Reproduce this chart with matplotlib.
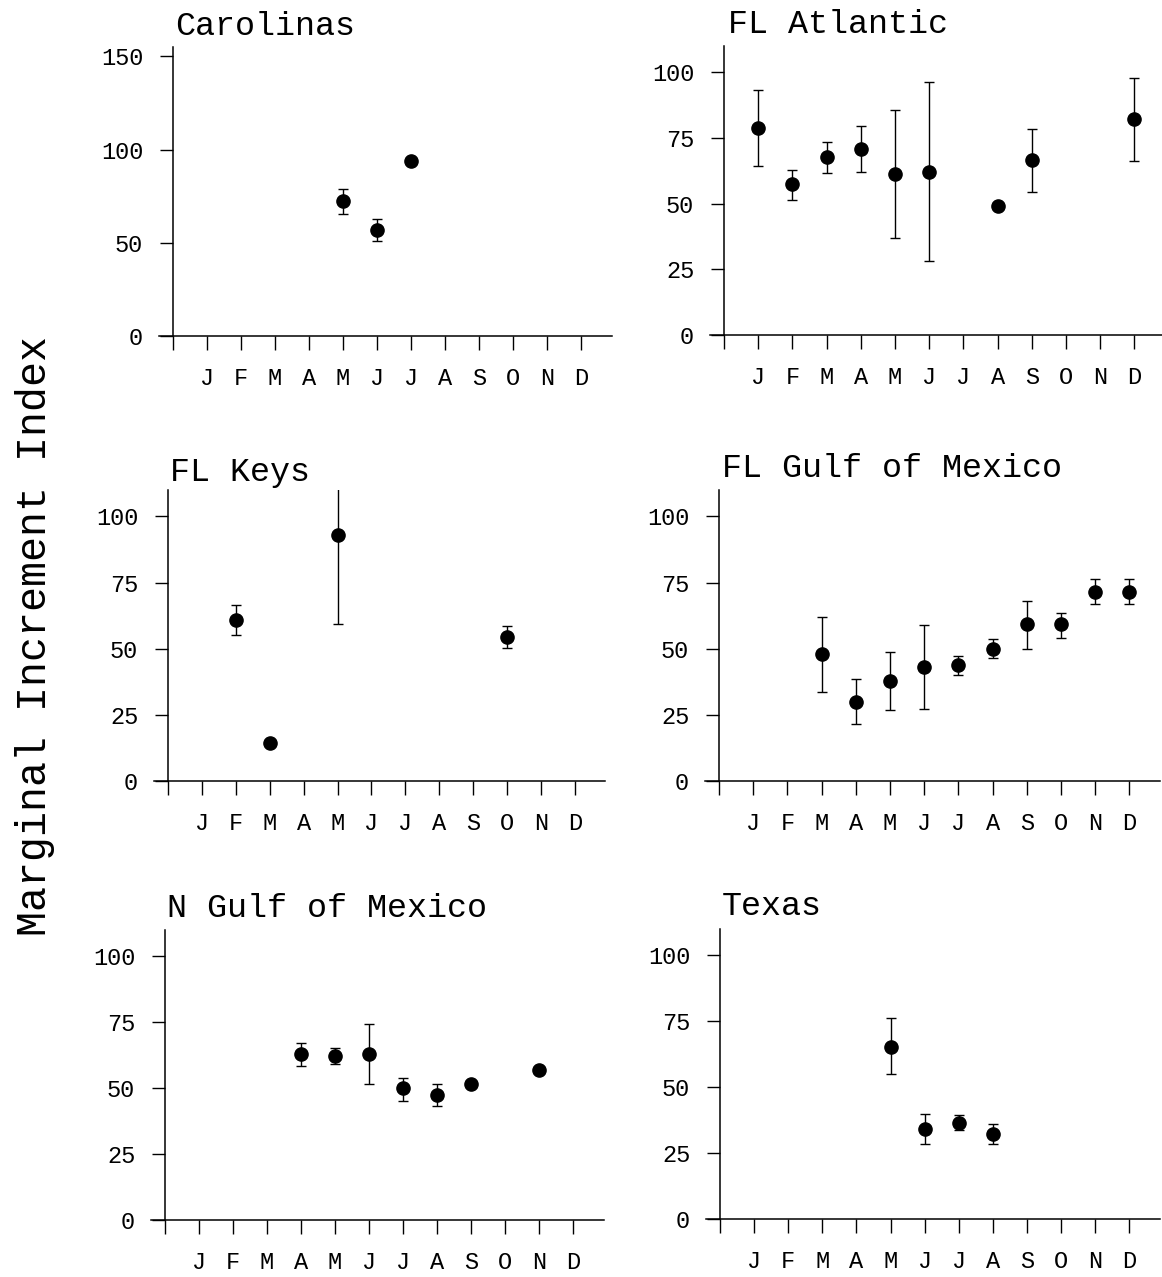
import numpy as np
import matplotlib
matplotlib.use("Agg")
import matplotlib.pyplot as plt

plt.rcParams['font.family'] = ['Liberation Mono', 'DejaVu Sans Mono']

# month positions 1..12, tick 0 is the origin
months = ['J', 'F', 'M', 'A', 'M', 'J', 'J', 'A', 'S', 'O', 'N', 'D']

# --- data (mean, lower bar end, upper bar end; nan = no bar) ---
car_x = [5, 6, 7]
car_mean = [72.6, 57.0, 94.0]
car_lo = [65.7, 51.0, np.nan]
car_hi = [79.0, 62.5, np.nan]

atl_x = [1, 2, 3, 4, 5, 6, 8, 9, 12]
atl_mean = [78.8, 57.3, 67.8, 70.8, 61.3, 62.1, 49.2, 66.5, 82.4]
atl_lo = [64.4, 51.3, 61.5, 62.1, 36.8, 28.1, np.nan, 54.6, 66.2]
atl_hi = [93.4, 62.7, 73.5, 79.6, 85.8, 96.3, np.nan, 78.4, 97.9]

key_x = [2, 3, 5, 10]
key_mean = [60.9, 14.5, 93.1, 54.4]
key_lo = [55.1, np.nan, 59.4, 50.2]
key_hi = [66.6, np.nan, 127.0, 58.5]

fgm_x = [3, 4, 5, 6, 7, 8, 9, 10, 11, 12]
fgm_mean = [47.9, 29.9, 37.9, 43.2, 43.7, 49.9, 59.2, 59.2, 71.6, 71.6]
fgm_lo = [33.6, 21.5, 26.7, 27.2, 40.2, 46.5, 49.9, 54.2, 66.9, 66.9]
fgm_hi = [62.0, 38.4, 48.9, 59.1, 47.1, 53.5, 67.9, 63.6, 76.3, 76.3]

ngm_x = [4, 5, 6, 7, 8, 9, 11]
ngm_mean = [63.0, 62.3, 63.0, 49.9, 47.5, 51.5, 57.0]
ngm_lo = [58.5, 59.1, 51.4, 45.3, 43.4, np.nan, np.nan]
ngm_hi = [67.3, 65.2, 74.2, 53.9, 51.4, np.nan, np.nan]

tex_x = [5, 6, 7, 8]
tex_mean = [65.4, 34.2, 36.6, 32.3]
tex_lo = [54.9, 28.3, 33.9, 28.6]
tex_hi = [76.3, 40.0, 39.3, 35.9]

W, H = 1162, 1277
fig = plt.figure(figsize=(W / 100, H / 100), dpi=100)

# panel layout in pixels: origin x, px per month, y of zero, y of top
panels = [
    ("Carolinas", car_x, car_mean, car_lo, car_hi, 173, 34.0, 336, 47, 155, [0, 50, 100, 150], (175, 35)),
    ("FL Atlantic", atl_x, atl_mean, atl_lo, atl_hi, 724, 34.2, 335, 46, 110, [0, 25, 50, 75, 100], (728, 33)),
    ("FL Keys", key_x, key_mean, key_lo, key_hi, 168, 33.9, 781, 490, 110, [0, 25, 50, 75, 100], (170, 481)),
    ("FL Gulf of Mexico", fgm_x, fgm_mean, fgm_lo, fgm_hi, 719, 34.2, 781, 490, 110, [0, 25, 50, 75, 100], (722, 477)),
    ("N Gulf of Mexico", ngm_x, ngm_mean, ngm_lo, ngm_hi, 165, 34.0, 1220, 930, 110, [0, 25, 50, 75, 100], (167, 917)),
    ("Texas", tex_x, tex_mean, tex_lo, tex_hi, 720, 34.1, 1219, 929, 110, [0, 25, 50, 75, 100], (722, 915)),
]

xmin, xmax = -0.4, 12.9

for title, xs, mean, lo, hi, x0, dx, yb, yt, ytop, yticks, tpos in panels:
    left = x0 + xmin * dx
    width = (xmax - xmin) * dx
    ax = fig.add_axes([left / W, 1 - yb / H, width / W, (yb - yt) / H])
    ax.set_xlim(xmin, xmax)
    ax.set_ylim(0, ytop)

    xs = np.array(xs, dtype=float)
    mean = np.array(mean)
    lo = np.array(lo)
    hi = np.array(hi)
    has = ~np.isnan(lo)
    ax.errorbar(xs[has], mean[has], yerr=[mean[has] - lo[has], hi[has] - mean[has]],
                fmt='none', ecolor='black', elinewidth=1.0, capsize=3.5, capthick=1.0)
    ax.plot(xs, mean, 'o', color='black', markersize=9.5, zorder=3)

    for s in ['top', 'right']:
        ax.spines[s].set_visible(False)
    ax.spines['left'].set_position(('data', 0))
    ax.spines['left'].set_linewidth(1.1)
    ax.spines['bottom'].set_linewidth(1.1)

    ax.set_xticks(range(13))
    ax.set_xticklabels([''] + months)
    ax.set_yticks(yticks)
    ax.tick_params(axis='x', direction='out', length=10, width=1.0, pad=12, labelsize=17)
    ax.tick_params(axis='y', direction='out', length=9.5, width=1.0, pad=12, labelsize=17)

    fig.text(tpos[0] / W, 1 - tpos[1] / H, title, ha='left', va='baseline', fontsize=24)

fig.text(35 / W, 1 - 636 / H, "Marginal Increment Index", rotation=90,
         ha='center', va='center', fontsize=30)

fig.savefig("out.png", dpi=100)
